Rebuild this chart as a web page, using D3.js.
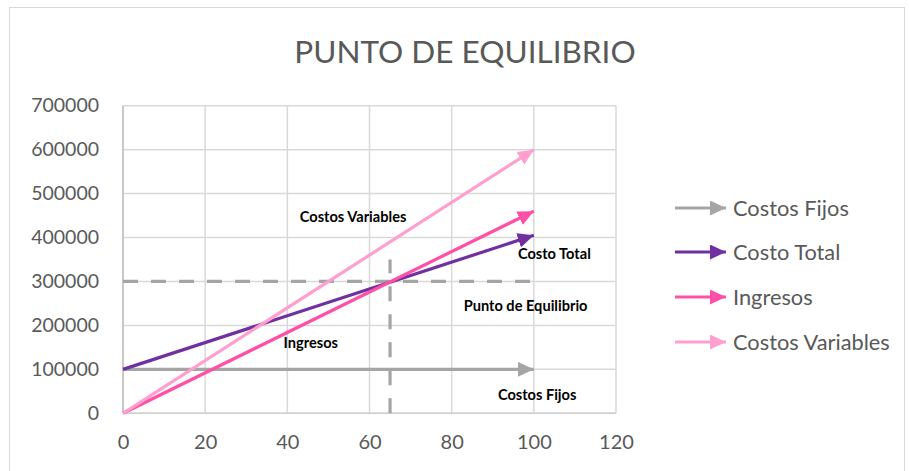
<!DOCTYPE html>
<html>
<head>
<meta charset="utf-8">
<script src="https://cdn.jsdelivr.net/npm/d3@7"></script>
<style>
  html, body { margin: 0; padding: 0; background: #ffffff; }
  svg { display: block; }
</style>
</head>
<body>
<svg id="chart" width="909" height="471"></svg>
<script>
// ---- data ----
const title = "PUNTO DE EQUILIBRIO";
const seriesNames = ["Costos Fijos", "Costo Total", "Ingresos", "Costos Variables"];
const seriesColors = ["#a5a5a5", "#7030a0", "#ff4fa6", "#ff9fcf"];
const unitsX = [0, 100];
const costosFijos = [100000, 100000];
const costoTotal = [100000, 405000];
const ingresos = [0, 460000];
const costosVariables = [0, 600000];
const xTicks = [0, 20, 40, 60, 80, 100, 120];
const yTicks = [0, 100000, 200000, 300000, 400000, 500000, 600000, 700000];
// break-even guide lines
const guideH = { x: [0, 100], y: [300000, 300000] };
const guideV = { x: [65, 65], y: [0, 350000] };
// annotation labels (data coordinates)
const annotations = [
  { text: "Costos Variables", x: 56, y: 447000 },
  { text: "Costo Total", x: 105, y: 363000 },
  { text: "Punto de Equilibrio", x: 98, y: 244000 },
  { text: "Ingresos", x: 45.7, y: 160000 },
  { text: "Costos Fijos", x: 100.8, y: 42000 }
];

const seriesValues = [costosFijos, costoTotal, ingresos, costosVariables];

// ---- layout ----
const svg = d3.select("#chart");
const plot = { left: 123, right: 616, top: 105.7, bottom: 413.3 };
const x = d3.scaleLinear().domain([0, 120]).range([plot.left, plot.right]);
const y = d3.scaleLinear().domain([0, 700000]).range([plot.bottom, plot.top]);
const font = "Lato, 'Open Sans', sans-serif";
const textColor = "#595959";
const gridColor = "#d9d9d9";

// chart border
svg.append("rect").attr("x", 9.5).attr("y", 7.5).attr("width", 895).attr("height", 480)
  .attr("fill", "#fff").attr("stroke", "#d9d9d9").attr("stroke-width", 1);

// title
svg.append("text").attr("x", 465).attr("y", 63).attr("text-anchor", "middle")
  .attr("font-family", font).attr("font-size", 31.5).attr("font-weight", 400)
  .attr("fill", textColor).text(title);

// markers
const defs = svg.append("defs");
seriesColors.forEach((c, i) => {
  defs.append("marker").attr("id", "arr" + i)
    .attr("markerUnits", "userSpaceOnUse")
    .attr("viewBox", "0 0 16 15").attr("refX", 16).attr("refY", 7.5)
    .attr("markerWidth", 16).attr("markerHeight", 15).attr("orient", "auto")
    .append("path").attr("d", "M0,0 L16,7.5 L0,15 Z").attr("fill", c);
});

// grid
const g = svg.append("g");
g.append("g").selectAll("line").data(yTicks).join("line")
  .attr("x1", plot.left).attr("x2", plot.right)
  .attr("y1", d => y(d)).attr("y2", d => y(d))
  .attr("stroke", gridColor).attr("stroke-width", 1.5);
g.append("g").selectAll("line").data(xTicks).join("line")
  .attr("x1", d => x(d)).attr("x2", d => x(d))
  .attr("y1", plot.top).attr("y2", plot.bottom)
  .attr("stroke", gridColor).attr("stroke-width", 1.5);

// axes
const yAxis = d3.axisLeft(y).tickValues(yTicks).tickFormat(d3.format("d")).tickSize(0).tickPadding(24);
const xAxis = d3.axisBottom(x).tickValues(xTicks).tickFormat(d3.format("d")).tickSize(0).tickPadding(22);
const ya = svg.append("g").attr("transform", `translate(${plot.left},0)`).call(yAxis);
const xa = svg.append("g").attr("transform", `translate(0,${plot.bottom})`).call(xAxis);
[ya, xa].forEach(a => {
  a.select(".domain").remove();
  a.selectAll("text").attr("font-family", font).attr("font-size", 19.5).attr("fill", textColor);
});
xa.selectAll("text").attr("dy", "0.71em").attr("font-size", 20);
// axis lines
svg.append("line").attr("x1", plot.left).attr("x2", plot.left).attr("y1", plot.top).attr("y2", plot.bottom)
  .attr("stroke", "#bfbfbf").attr("stroke-width", 1.5);
svg.append("line").attr("x1", plot.left).attr("x2", plot.right).attr("y1", plot.bottom).attr("y2", plot.bottom)
  .attr("stroke", "#d0d0d0").attr("stroke-width", 1.5);

// guides
const line = d3.line().x(d => x(d[0])).y(d => y(d[1]));
[guideH, guideV].forEach(gd => {
  svg.append("path").attr("d", line(d3.zip(gd.x, gd.y)))
    .attr("fill", "none").attr("stroke", "#a5a5a5").attr("stroke-width", 3.2)
    .attr("stroke-dasharray", "15,13");
});

// series
seriesValues.forEach((vals, i) => {
  svg.append("path").attr("d", line(d3.zip(unitsX, vals)))
    .attr("fill", "none").attr("stroke", seriesColors[i]).attr("stroke-width", 3.2)
    .attr("marker-end", `url(#arr${i})`);
});

// annotations
svg.append("g").selectAll("text").data(annotations).join("text")
  .attr("x", d => x(d.x)).attr("y", d => y(d.y)).attr("dy", "0.35em")
  .attr("text-anchor", "middle").attr("font-family", font).attr("font-size", 14.6)
  .attr("font-weight", 700).attr("fill", "#000").text(d => d.text);

// legend
const lg = svg.append("g");
const legendY = [208, 252, 297, 342];
seriesNames.forEach((n, i) => {
  lg.append("line").attr("x1", 675).attr("x2", 726).attr("y1", legendY[i]).attr("y2", legendY[i])
    .attr("stroke", seriesColors[i]).attr("stroke-width", 3.2).attr("marker-end", `url(#arr${i})`);
  lg.append("text").attr("x", 733).attr("y", legendY[i]).attr("dy", "0.35em")
    .attr("font-family", font).attr("font-size", 21.8).attr("fill", textColor).text(n);
});
</script>
</body>
</html>
